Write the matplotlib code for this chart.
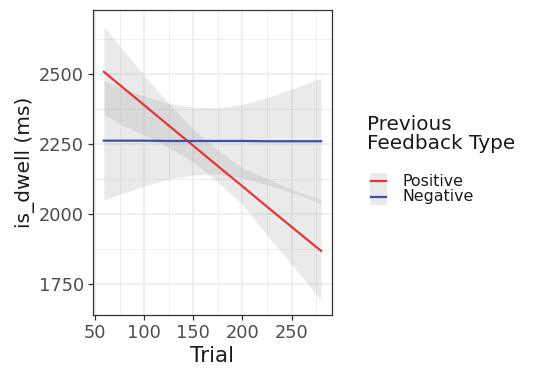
import numpy as np
import matplotlib
matplotlib.use("Agg")
from matplotlib import pyplot as plt
from matplotlib.lines import Line2D
from matplotlib.patches import Rectangle

plt.rcParams['font.family'] = ['DejaVu Sans']

# fitted lines with confidence bands
trial = [59, 80, 100, 125, 150, 175, 200, 225, 250, 280]

pos_fit = [2508, 2447, 2389, 2316, 2244, 2171, 2099, 2026, 1954, 1868]
pos_lo = [2355, 2314, 2282, 2237, 2185, 2114, 2034, 1925, 1820, 1692]
pos_hi = [2670, 2580, 2496, 2395, 2303, 2228, 2164, 2127, 2088, 2052]

neg_fit = [2262, 2262, 2262, 2261, 2261, 2261, 2261, 2260, 2260, 2260]
neg_lo = [2050, 2076, 2100, 2125, 2140, 2142, 2129, 2105, 2076, 2039]
neg_hi = [2477, 2447, 2421, 2396, 2381, 2379, 2392, 2416, 2446, 2486]

legend_title = "Previous\nFeedback Type"
legend_labels = ["Positive", "Negative"]
line_colors = ["#e3363a", "#3d4fa6"]

fig = plt.figure(figsize=(5.33, 3.69), dpi=100)
ax = fig.add_axes([93 / 533, 54 / 369, 239 / 533, 305 / 369])

ax.set_xlim(47.9, 291.1)
ax.set_ylim(1639, 2729)
ax.set_xticks([50, 100, 150, 200, 250])
ax.set_xticks([75, 125, 175, 225, 275], minor=True)
ax.set_yticks([1750, 2000, 2250, 2500])
ax.set_yticks([1875, 2125, 2375, 2625], minor=True)
ax.grid(which='major', color='#ebebeb', linewidth=1.1)
ax.grid(which='minor', color='#ebebeb', linewidth=0.6)
ax.set_axisbelow(True)

ax.fill_between(trial, pos_lo, pos_hi, color='#999999', alpha=0.2, linewidth=0)
ax.fill_between(trial, neg_lo, neg_hi, color='#999999', alpha=0.2, linewidth=0)
ax.plot(trial, pos_fit, color=line_colors[0], linewidth=1.6)
ax.plot(trial, neg_fit, color=line_colors[1], linewidth=1.6)

for s in ax.spines.values():
    s.set_color('#333333')
    s.set_linewidth(0.9)
ax.tick_params(which='major', length=3.5, width=0.9, color='#333333',
               labelsize=12.8, labelcolor='#4d4d4d', pad=3)
ax.tick_params(which='minor', length=0)

ax.set_xlabel("Trial", fontsize=15.5, color='#1a1a1a', labelpad=3)
ax.set_ylabel("is_dwell (ms)", fontsize=14.5, color='#1a1a1a', labelpad=3)

# legend drawn by hand, ggplot style
fig.text(367 / 533, 1 - 115 / 369, legend_title, fontsize=14.4, va='top',
         ha='left', linespacing=1.0, color='#1a1a1a')
for i, (lab, col) in enumerate(zip(legend_labels, line_colors)):
    yc = 1 - (181 + i * 16) / 369
    fig.patches.append(Rectangle((370 / 533, yc - 8 / 369), 17 / 533, 16 / 369,
                                 transform=fig.transFigure, color='#999999',
                                 alpha=0.2, linewidth=0))
    fig.lines.append(Line2D([371 / 533, 386 / 533], [yc, yc],
                            transform=fig.transFigure, color=col, linewidth=1.6))
    fig.text(402 / 533, yc, lab, fontsize=11.4, va='center', ha='left',
             color='#1a1a1a')

fig.savefig("out.png", dpi=100)
